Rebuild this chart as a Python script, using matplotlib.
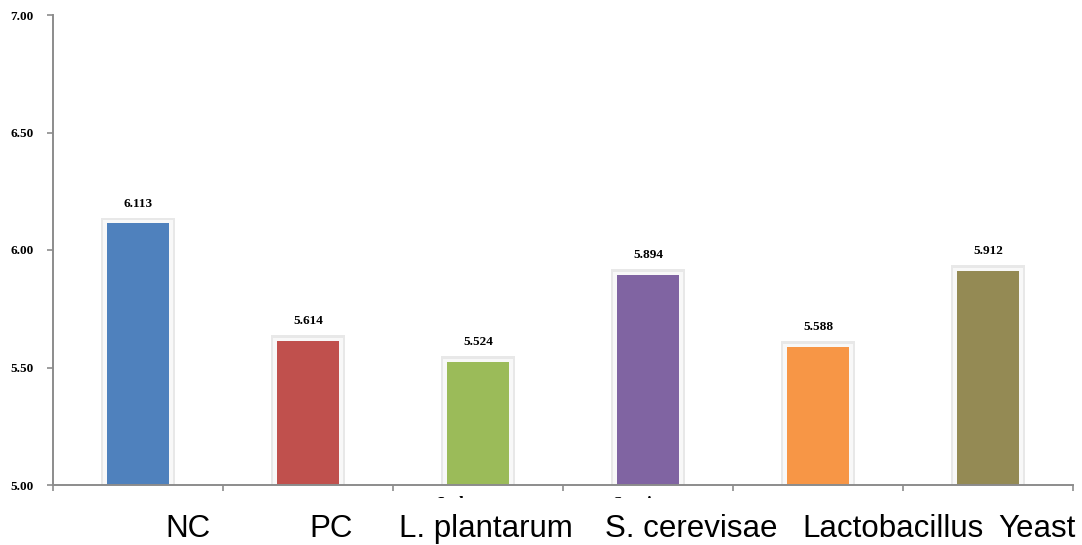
import matplotlib
matplotlib.use("Agg")
import matplotlib.pyplot as plt
from matplotlib.patches import Rectangle

categories = ["NC", "PC", "L. plantarum", "S. cerevisae", "Lactobacillus", "Yeast"]
values = [6.113, 5.614, 5.524, 5.894, 5.588, 5.912]
value_labels = ["6.113", "5.614", "5.524", "5.894", "5.588", "5.912"]
colors = ["#4F81BD", "#C0504D", "#9BBB59", "#8064A2", "#F79646", "#948A54"]
yticks = [5.00, 5.50, 6.00, 6.50, 7.00]
group_labels = ["Isolates", "Species"]

W, H = 1082, 545
fig = plt.figure(figsize=(W / 100, H / 100), dpi=100)
ax = fig.add_axes([53 / W, 1 - 485 / H, (1073 - 53) / W, (485 - 15) / H])

x = list(range(len(categories)))
base = yticks[0]
heights = [v - base for v in values]
ax.bar(x, [h + 0.024 for h in heights], width=0.44, bottom=base, color="#e8e8e8", zorder=1)
ax.bar(x, [h + 0.013 for h in heights], width=0.41, bottom=base, color="#f8f8f8", zorder=2)
ax.bar(x, heights, width=0.37, bottom=base, color=colors, zorder=3)

for xi, v, lab in zip(x, values, value_labels):
    ax.text(xi, v + 0.072, lab, ha="center", va="baseline", fontsize=9.5, fontweight="bold",
            family="Liberation Serif", zorder=4)

ax.set_xlim(-0.5, len(categories) - 0.5)
ax.set_ylim(yticks[0], yticks[-1])
ax.set_yticks(yticks)
ax.set_yticklabels([f"{t:.2f}" for t in yticks], fontsize=9.5, fontweight="bold", family="Liberation Serif")
ax.set_xticks([i - 0.5 for i in range(len(categories) + 1)])
ax.set_xticklabels([])
for s in ["top", "right"]:
    ax.spines[s].set_visible(False)
for s in ["left", "bottom"]:
    ax.spines[s].set_color("#8c8c8c")
    ax.spines[s].set_linewidth(1.4)
    ax.spines[s].set_zorder(5)
ax.tick_params(axis="both", direction="out", color="#8c8c8c", length=4, width=1.2, pad=10)

# Big category labels below
label_centers = [188, 331, 486, 691, 893, 1037]
for cx, lab in zip(label_centers, categories):
    fig.text(cx / W, 1 - 537 / H, lab, ha="center", va="baseline", fontsize=22.5,
             family="Liberation Sans")

# Partially hidden group labels
clip = Rectangle((0, 1 - 498 / H), 1, 0.2, transform=fig.transFigure, visible=False)
fig.add_artist(clip)
for sx, lab in zip([437, 612], group_labels):
    t = fig.text(sx / W, 1 - 496 / H, lab, ha="left", va="top", fontsize=12.5,
                 fontweight="bold", family="Liberation Serif")
    t.set_clip_path(clip)

fig.savefig("out.png", dpi=100)
